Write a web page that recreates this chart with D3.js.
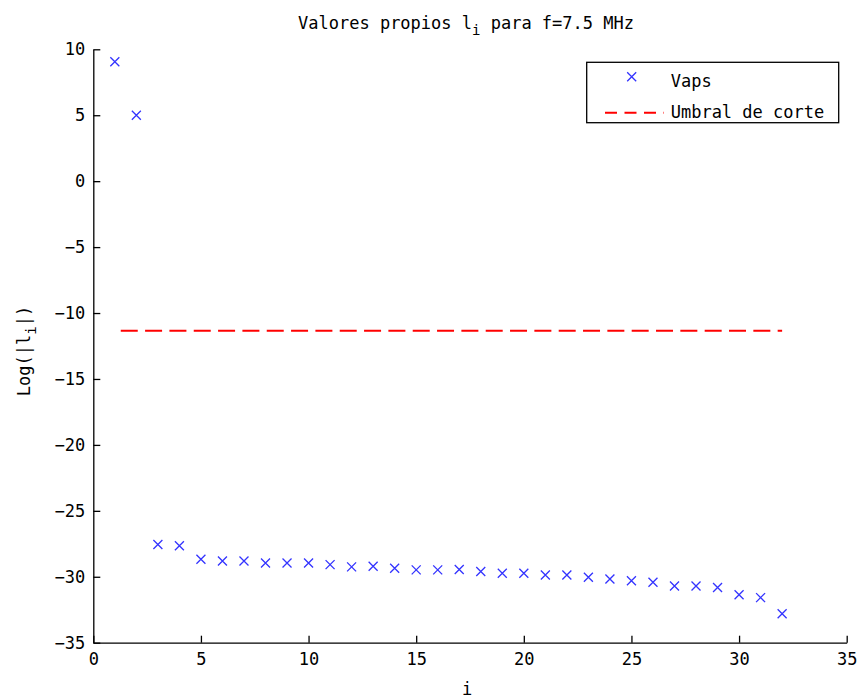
<!DOCTYPE html>
<html>
<head>
<meta charset="utf-8">
<script src="https://cdn.jsdelivr.net/npm/d3@7"></script>
<style>
  body { margin: 0; background: #fff; }
  svg text { font-family: "DejaVu Sans Mono", monospace; font-size: 17px; fill: #000; }
</style>
</head>
<body>
<svg id="chart" width="863" height="700"></svg>
<script>
const indices = d3.range(1, 33);
const vaps = [9.06, 5.0, -27.55, -27.65, -28.67, -28.8, -28.8, -28.95, -28.95, -28.95,
  -29.08, -29.25, -29.2, -29.35, -29.48, -29.48, -29.45, -29.6, -29.73, -29.73,
  -29.86, -29.86, -30.04, -30.17, -30.3, -30.42, -30.7, -30.7, -30.82, -31.36,
  -31.58, -32.8];
const threshold = -11.35;
const thresholdRange = [1, 32];
const xTicks = [0, 5, 10, 15, 20, 25, 30, 35];
const yTicks = [10, 5, 0, -5, -10, -15, -20, -25, -30, -35];

const svg = d3.select("#chart");
const mLeft = 93.3, mRight = 846.7, mTop = 49.3, mBottom = 642.7;

const x = d3.scaleLinear().domain([0, 35]).range([mLeft, mRight]);
const y = d3.scaleLinear().domain([-35, 10]).range([mBottom, mTop]);

// axes
const xAxis = d3.axisBottom(x).tickValues(xTicks).tickSizeInner(-7).tickSizeOuter(0).tickPadding(16)
  .tickFormat(d => String(d));
const yAxis = d3.axisLeft(y).tickValues(yTicks).tickSizeInner(-7).tickSizeOuter(0).tickPadding(16)
  .tickFormat(d => d < 0 ? "\u2212" + Math.abs(d) : String(d));

const gx = svg.append("g").attr("transform", `translate(0,${mBottom})`).call(xAxis);
const gy = svg.append("g").attr("transform", `translate(${mLeft},0)`).call(yAxis);
[gx, gy].forEach(g => {
  g.selectAll("path.domain").attr("stroke", "#000").attr("stroke-width", 1.3);
  g.selectAll(".tick line").attr("stroke", "#000").attr("stroke-width", 1.3);
  g.selectAll(".tick text").style("font-family", "DejaVu Sans Mono, monospace").style("font-size", "17px").attr("fill", "#000");
});
gx.selectAll(".tick text").attr("dy", "0.35em").attr("y", 16);
gy.selectAll(".tick text").attr("x", -8);

// threshold line
const lineGen = d3.line().x(d => x(d)).y(() => y(threshold));
svg.append("path")
  .attr("d", lineGen(thresholdRange))
  .attr("fill", "none")
  .attr("stroke", "#ff0000")
  .attr("stroke-width", 2)
  .attr("stroke-dasharray", "17,7.33")
  .attr("stroke-dashoffset", 18.4);

// markers
const s = 4.5;
const crossPath = (cx, cy) => `M${cx - s},${cy - s}L${cx + s},${cy + s}M${cx - s},${cy + s}L${cx + s},${cy - s}`;
svg.append("g").selectAll("path").data(indices).join("path")
  .attr("d", (d, i) => crossPath(x(d), y(vaps[i])))
  .attr("stroke", "#3333ff")
  .attr("stroke-width", 1.3)
  .attr("fill", "none");

// title
const title = svg.append("text").attr("x", 466).attr("y", 29).attr("text-anchor", "middle");
title.append("tspan").text("Valores propios l");
title.append("tspan").attr("dy", 6).style("font-size", "14px").text("i");
title.append("tspan").attr("dy", -6).text(" para f=7.5 MHz");

// x label
svg.append("text").attr("x", 467).attr("y", 695).attr("text-anchor", "middle").text("i");

// y label
const yl = svg.append("text").attr("transform", "translate(30,351) rotate(-90)").attr("text-anchor", "middle");
yl.append("tspan").text("Log(|l");
yl.append("tspan").attr("dy", 6).style("font-size", "14px").text("i");
yl.append("tspan").attr("dy", -6).text("|)");

// legend
const lg = svg.append("g");
lg.append("rect").attr("x", 586.7).attr("y", 62.3).attr("width", 252).attr("height", 60.4)
  .attr("fill", "#fff").attr("stroke", "#000").attr("stroke-width", 1.3);
lg.append("path").attr("d", crossPath(631.7, 76.7)).attr("stroke", "#3333ff").attr("stroke-width", 1.3).attr("fill", "none");
lg.append("text").attr("x", 670.7).attr("y", 87).text("Vaps");
lg.append("line").attr("x1", 605).attr("x2", 664).attr("y1", 112.7).attr("y2", 112.7)
  .attr("stroke", "#ff0000").attr("stroke-width", 2).attr("stroke-dasharray", "12,7.5");
lg.append("text").attr("x", 670.7).attr("y", 118).text("Umbral de corte");
</script>
</body>
</html>
